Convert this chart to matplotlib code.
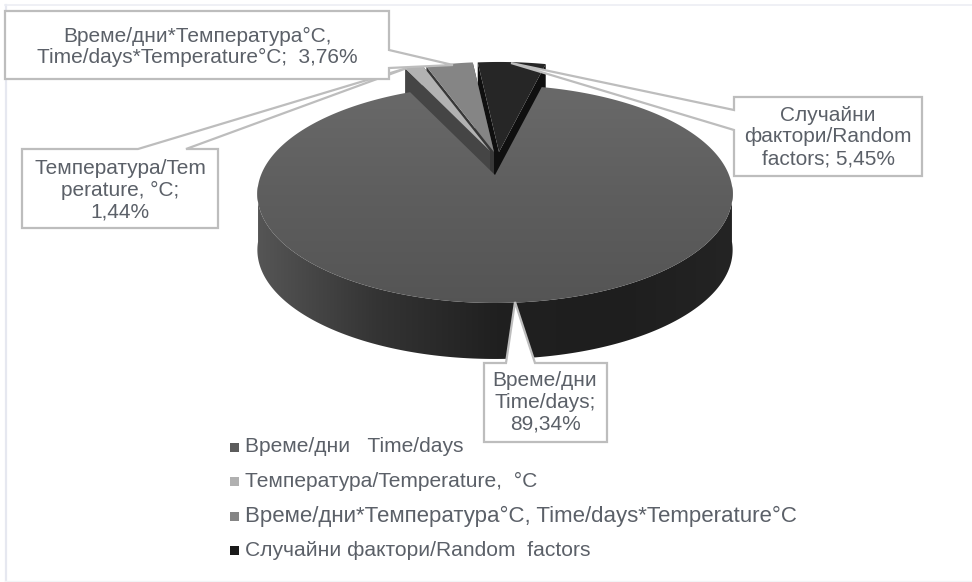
import numpy as np
import matplotlib
matplotlib.use("Agg")
import matplotlib.pyplot as plt
from matplotlib.patches import Polygon, Rectangle
from matplotlib.colors import LinearSegmentedColormap

plt.rcParams['font.family'] = ['Liberation Sans', 'DejaVu Sans']

# Data, shares in percent
legend_names = ["Време/дни   Time/days",
                "Температура/Temperature,  °C",
                "Време/дни*Температура°C, Time/days*Temperature°C",
                "Случайни фактори/Random  factors"]
shares = [89.34, 1.44, 3.76, 5.45]
slice_labels = ["Време/дни\nTime/days;\n89,34%",
                "Температура/Tem\nperature, °C;\n1,44%",
                "Време/дни*Температура°C,\nTime/days*Temperature°C;  3,76%",
                "Случайни\nфактори/Random\nfactors; 5,45%"]

# Look of the slices
top_colors = ["#606060", "#b2b2b2", "#858585", "#262626"]
wall_colors = [None, "#454545", "#383838", "#0f0f0f"]
legend_colors = ["#5c5c5c", "#b0b0b0", "#858585", "#1a1a1a"]
legend_sizes = [15.1, 15.1, 16, 15.1]
shift_x = [0, -5, -1, 4]
shift_y = [0, -24, -23, -23]
text_color = "#5b6068"
line_color = "#bdbdbd"

# Projection of the tilted disc, in pixels
cx, cy = 495, 175
rx, ry, persp = 234, 105.7, 0.174
depth = 56
start_angle = 13.5


def rim(theta):
    u = np.sin(np.radians(theta))
    v = -np.cos(np.radians(theta))
    return cx + rx * u / (1 - persp * v), cy + ry * v / (1 - persp * v)


fig = plt.figure(figsize=(9.72, 5.82), dpi=100)
ax = fig.add_axes([0, 0, 1, 1])

# Slice angles, clockwise from the top
edges = start_angle + np.cumsum([0] + [s / sum(shares) * 360 for s in shares])

# The three small slices sit behind the big one
for i in [3, 2, 1]:
    dx, dy = shift_x[i], shift_y[i]
    t = np.linspace(edges[i], edges[i + 1], 30)
    xs, ys = rim(t)
    xs, ys = xs + dx, ys + dy
    ax_, ay_ = cx + dx, cy + dy
    for xr, yr in [(xs[0], ys[0]), (xs[-1], ys[-1])]:
        ax.add_patch(Polygon([(ax_, ay_), (xr, yr), (xr, yr + depth), (ax_, ay_ + depth)],
                             fc=wall_colors[i], ec="none", zorder=2))
    ax.add_patch(Polygon(list(zip(xs, ys)) + [(ax_, ay_)], fc=top_colors[i], ec="none", zorder=3))

# Big slice: outer wall first, shaded along x
t = np.linspace(edges[0], edges[1], 400)
xs, ys = rim(t)
front = ys > cy + 10
wall = Polygon(list(zip(xs[front], ys[front])) + list(zip(xs[front][::-1], ys[front][::-1] + depth)),
               fc="none", ec="none", zorder=4)
ax.add_patch(wall)
wall_grad = LinearSegmentedColormap.from_list("w", ["#565656", "#343434", "#202020", "#1e1e1e", "#242424"])
im = ax.imshow(np.linspace(0, 1, 256).reshape(1, -1), cmap=wall_grad, aspect="auto",
               extent=(255, 736, 370, 180), zorder=4)
im.set_clip_path(wall)

top = Polygon(list(zip(xs, ys)) + [(cx, cy)], fc="none", ec="none", zorder=5)
ax.add_patch(top)
grad = LinearSegmentedColormap.from_list("g", ["#6a6a6a", "#5e5e5e", "#545454"])
im = ax.imshow(np.linspace(0, 1, 256).reshape(-1, 1), cmap=grad, aspect="auto",
               extent=(250, 740, 310, 80), zorder=5)
im.set_clip_path(top)


def callout(box, tip, base0, base1, side, tx, ty):
    # box outline with a pointer going out of one side
    x0, y0, x1, y1 = box
    pts = {"top": [(x0, y0), base0, tip, base1, (x1, y0), (x1, y1), (x0, y1)],
           "right": [(x0, y0), (x1, y0), base0, tip, base1, (x1, y1), (x0, y1)],
           "left": [(x0, y0), (x1, y0), (x1, y1), (x0, y1), base1, tip, base0]}[side]
    ax.add_patch(Polygon(pts, closed=True, fc="white", ec=line_color, lw=1.6, zorder=6))
    return tx, ty


boxes = [
    ((484, 363, 607, 442), (515, 302), (506, 363), (535, 363), "top", 545, 402),
    ((22, 149, 218, 228), (407, 68), (138, 149), (186, 149), "top", 120, 190),
    ((5, 11, 389, 79), (453, 65), (389, 50), (389, 68), "right", 197, 47),
    ((734, 97, 922, 176), (511, 63), (734, 110), (734, 130), "left", 828, 137),
]
for name, spec in zip(slice_labels, boxes):
    tx, ty = callout(*spec)
    ax.text(tx, ty, name, ha="center", va="center", fontsize=15, color=text_color,
            linespacing=1.18, zorder=7)

# Legend by hand, it sits in a single left aligned column
legend_y = [447, 481, 516, 550]
for name, col, y, size in zip(legend_names, legend_colors, legend_y, legend_sizes):
    ax.add_patch(Rectangle((230, y - 4.5), 9, 9, fc=col, ec="none", zorder=7))
    ax.text(245, y, name, ha="left", va="center", fontsize=size, color=text_color, zorder=7)

# Faint frame of the source picture
ax.plot([5.5, 5.5], [5, 582], color="#e6e8f0", lw=1.6, zorder=1)
ax.plot([5, 972], [5, 5], color="#eceef4", lw=1.2, zorder=1)
ax.plot([5, 972], [581, 581], color="#f2f4f6", lw=1.0, zorder=1)

ax.set_xlim(0, 972)
ax.set_ylim(582, 0)
ax.axis("off")

fig.savefig("out.png", dpi=100)
